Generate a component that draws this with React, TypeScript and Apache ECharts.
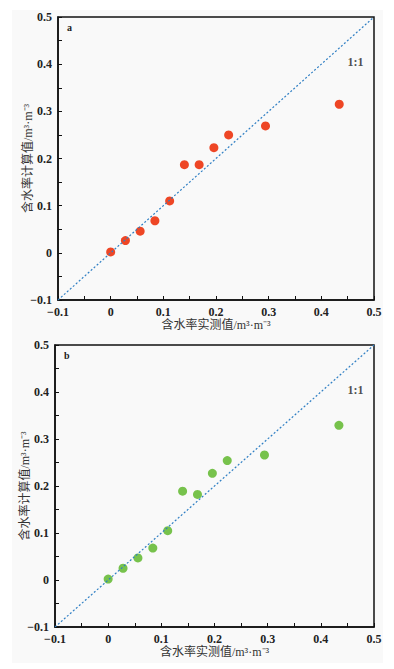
import React, { useEffect, useRef } from "react";
import * as echarts from "echarts";

const measured = [0, 0.028, 0.056, 0.084, 0.112, 0.14, 0.168, 0.196, 0.224, 0.294, 0.434];
const calcA = [0.002, 0.026, 0.046, 0.068, 0.11, 0.187, 0.187, 0.223, 0.25, 0.269, 0.315];
const calcB = [0.002, 0.025, 0.047, 0.068, 0.105, 0.189, 0.182, 0.227, 0.254, 0.266, 0.329];
const oneToOne = [[-0.1, -0.1], [0.5, 0.5]];
const oneToOneLabelPos = [0.465, 0.405];
const panelLabels = ["a", "b"];
const xTitle = "含水率实测值/m³·m⁻³";
const yTitle = "含水率计算值/m³·m⁻³";

const FONT = "'Liberation Serif', 'Noto Sans CJK SC', serif";

export default function App() {
  const ref = useRef<HTMLDivElement>(null);
  useEffect(() => {
    if (!ref.current) return;
    const chart = echarts.init(ref.current, undefined, { renderer: "svg" });
    const grids = [
      { left: 58, top: 17, width: 316, height: 283 },
      { left: 55, top: 345, width: 319, height: 282 },
    ];
    const fmt = (v: number) => {
      const r = Math.round(v * 10) / 10;
      if (r === 0) return "0";
      return r < 0 ? "\u2212" + Math.abs(r).toFixed(1) : r.toFixed(1);
    };
    const axisBase = (gi: number, isX: boolean) => ({
      type: "value",
      gridIndex: gi,
      min: -0.1,
      max: 0.5,
      interval: 0.1,
      name: isX ? xTitle : yTitle,
      nameLocation: "middle",
      nameGap: isX ? 19 : 24,
      nameMoveOverlap: false,
      nameTextStyle: { fontFamily: FONT, fontSize: 12, color: "#333", fontWeight: "normal" },
      axisLine: { show: true, onZero: false, lineStyle: { color: "#111", width: 1.5 } },
      axisTick: { show: true, inside: true, length: 4, lineStyle: { color: "#111", width: 1 } },
      minorTick: { show: true, splitNumber: 2, length: 4, lineStyle: { color: "#111", width: 1 } },
      splitLine: { show: false },
      axisLabel: {
        fontFamily: FONT,
        fontSize: 12,
        fontWeight: "bold",
        color: "#222",
        margin: 6,
        formatter: fmt,
      },
    });
    const colors = ["#ee4625", "#77c24c"];
    const data = [calcA, calcB];
    const series: any[] = [];
    [0, 1].forEach((gi) => {
      series.push({
        type: "line",
        xAxisIndex: gi,
        yAxisIndex: gi,
        data: oneToOne,
        symbol: "none",
        lineStyle: { color: "#2f7fc4", width: 1.2, type: [2, 2] },
        silent: true,
      });
      series.push({
        type: "scatter",
        xAxisIndex: gi,
        yAxisIndex: gi,
        data: measured.map((m, i) => [m, data[gi][i]]),
        symbolSize: 9,
        itemStyle: { color: colors[gi], opacity: 1 },
      });
      series.push({
        type: "scatter",
        xAxisIndex: gi,
        yAxisIndex: gi,
        data: [oneToOneLabelPos],
        symbolSize: 0,
        label: {
          show: true,
          position: "inside",
          formatter: "1:1",
          fontFamily: FONT,
          fontSize: 12,
          fontWeight: "bold",
          color: "#222",
        },
      });
    });
    chart.setOption({
      animation: false,
      backgroundColor: "#ffffff",
      grid: grids.map((g) => ({ ...g, show: true, borderColor: "#111", borderWidth: 1.5, backgroundColor: "transparent" })),
      xAxis: [axisBase(0, true), axisBase(1, true)],
      yAxis: [axisBase(0, false), axisBase(1, false)],
      graphic: [
        { type: "rect", z: -10, shape: { x: 12, y: 10, width: 371, height: 653 }, style: { fill: "#f9f9f9" } },
        ...grids.map((g, i) => ({
          type: "text",
          left: g.left + 9,
          top: g.top + 5,
          style: { text: panelLabels[i], font: "bold 10px " + FONT, fill: "#222" },
        })),
      ],
      series,
    });
    return () => chart.dispose();
  }, []);
  return (
    <div
      ref={ref}
      style={{ position: "absolute", left: 0, top: 0, width: 394, height: 669 }}
    />
  );
}
